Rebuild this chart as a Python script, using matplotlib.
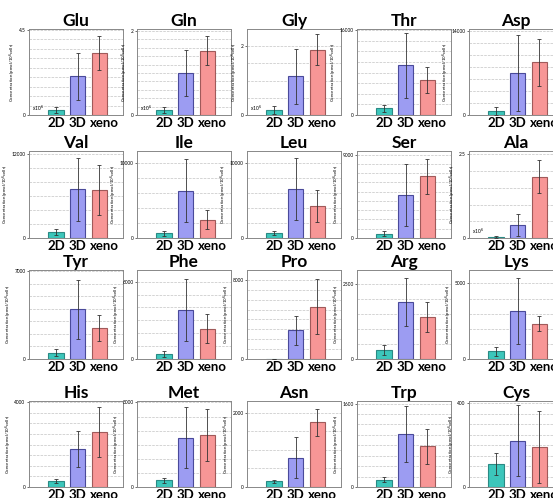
import numpy as np
import matplotlib.pyplot as plt

plt.rcParams['font.family'] = ['Lato', 'DejaVu Sans']

groups = ["2D", "3D", "xeno"]
names = ["Glu", "Gln", "Gly", "Thr", "Asp",
         "Val", "Ile", "Leu", "Ser", "Ala",
         "Tyr", "Phe", "Pro", "Arg", "Lys",
         "His", "Met", "Asn", "Trp", "Cys"]

# mean values (2D, 3D, xeno) and errors
means = [
    [0.26, 2.05, 3.27], [0.12, 1.0, 1.53], [0.14, 1.12, 1.9], [1300, 9340, 6530], [670, 7000, 8790],
    [860, 6960, 6860], [620, 6310, 2440], [670, 6490, 4220], [470, 4680, 6660], [0.03, 0.375, 1.83],
    [500, 3980, 2490], [420, 3780, 2350], [40, 2890, 5280], [300, 1910, 1410], [510, 3160, 2330],
    [300, 1790, 2570], [235, 1750, 1835], [150, 790, 1740], [143, 1015, 780], [110, 221, 192],
]
errs = [
    [0.18, 1.25, 0.9], [0.08, 0.55, 0.35], [0.12, 0.8, 0.45], [650, 6200, 2450], [730, 6270, 3900],
    [440, 4500, 3600], [360, 4200, 1300], [310, 4100, 2100], [290, 3350, 1900], [0.03, 0.33, 0.5],
    [270, 2350, 1060], [230, 2400, 1130], [0, 1500, 2800], [170, 800, 500], [300, 2170, 500],
    [100, 860, 1180], [100, 1090, 920], [30, 540, 360], [50, 540, 340], [53, 168, 171],
]
# labelled top tick, axis top, grid step
top_label = [4.5, 2, 2, 16000, 14000,
             12000, 10000, 10000, 9000, 2.5,
             7000, 6000, 8000, 2500, 5000,
             4000, 3000, 2000, 1600, 400]
top_lim = [4.55, 2.05, 2.5, 16200, 14300,
           12400, 11560, 11560, 9400, 2.6,
           7100, 6900, 9000, 2980, 5890,
           4050, 3050, 2310, 1650, 410]
grid_step = [0.5, 0.2, 0.5, 2000, 2000,
             2000, 2000, 2000, 1000, 0.5,
             1000, 1000, 1000, 500, 1000,
             500, 500, 500, 200, 50]
scaled = ["Glu", "Gln", "Gly", "Ala"]

colors = ["#3cc6bb", "#9c9cf2", "#f79696"]
edges = ["#2a8a84", "#4a4a9a", "#a05a5a"]

W, H = 553, 498
fig = plt.figure(figsize=(W / 100, H / 100), dpi=100)

col_left = [29, 137, 247, 357, 469]
row_top = [29, 151, 270, 401]
row_h = [86, 87, 89, 86]
ax_w = 94

x = np.arange(3)
label_pos = [0, 0.97, 2.22]  # the "xeno" label sits a bit right of its bar
for i, name in enumerate(names):
    r, c = divmod(i, 5)
    left = col_left[c] / W
    bottom = 1 - (row_top[r] + row_h[r]) / H
    ax = fig.add_axes([left, bottom, ax_w / W, row_h[r] / H])
    ax.bar(x, means[i], width=0.7, color=colors, edgecolor=edges, linewidth=0.8, zorder=3)
    ax.errorbar(x, means[i], yerr=errs[i], fmt="none", ecolor="#333333",
                elinewidth=0.6, capsize=1.2, capthick=0.6, zorder=4)
    ax.set_xlim(-1.25, 3.1)
    ax.set_ylim(0, top_lim[i])
    for g in np.arange(grid_step[i], top_lim[i], grid_step[i]):
        ax.axhline(g, color="#c4c4c4", linestyle="--", linewidth=0.5, zorder=1)
    ax.set_yticks([0, top_label[i]])
    ax.set_yticklabels(["0", f"{top_label[i]:g}"], fontsize=3.5)
    ax.tick_params(axis="y", length=1.5, width=0.4, pad=1)
    ax.set_xticks(label_pos)
    ax.set_xticklabels(groups, fontsize=9.5, fontweight="bold")
    ax.tick_params(axis="x", length=0, pad=1.5)
    for s in ax.spines.values():
        s.set_color("#888888")
        s.set_linewidth(0.7)
    ax.set_title(name, fontsize=12.5, fontweight="bold", pad=1.5)
    ax.set_ylabel("Concentration (pmol/10$^6$cells)", fontsize=3.2, labelpad=1)
    if name in scaled:
        ax.text(0.03, 0.02, "x10$^6$", transform=ax.transAxes, fontsize=3.5, va="bottom")

fig.savefig("out.png", dpi=100)
